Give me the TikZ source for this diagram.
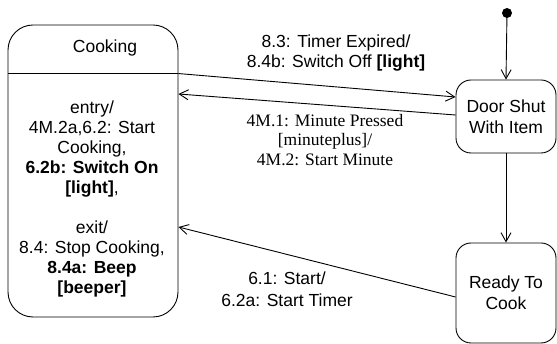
\documentclass[tikz,border=0pt]{standalone}
\usepackage{fontspec}
\setmainfont{Liberation Sans}
\newfontfamily\timesfont{Liberation Serif}
\usetikzlibrary{arrows.meta}

\begin{document}
\begin{tikzpicture}[x=1pt, y=-1pt, >={Straight Barb[length=9pt, width=10pt]},
    state/.style={draw, line width=0.9pt, rounded corners=15pt, minimum width=100pt, align=center,
        font=\fontsize{17.5}{21}\selectfont},
    lbl/.style={align=center, font=\fontsize{17.5}{20}\selectfont},
    trans/.style={->, line width=0.9pt}]
    \useasboundingbox (0,0) rectangle (557,344);

    % Zustand Cooking mit Trennlinie
    \node[state, rounded corners=25pt, minimum width=170pt, minimum height=292pt] (cooking) at (93,171) {};
    \draw[line width=0.9pt] ([yshift=-49pt]cooking.north west) -- ([yshift=-49pt]cooking.north east);
    \node[lbl] (cookname) at (105,48) {Cooking};
    \node[lbl] (cookbody) at (92,199) {entry/\\ 4M.2a,6.2: Start\\ Cooking,\\ \textbf{6.2b: Switch On}\\ \textbf{[light]},\\[20pt]
        exit/\\ 8.4: Stop Cooking,\\ \textbf{8.4a: Beep}\\ \textbf{[beeper]}};

    % die beiden anderen Zustaende
    \node[state, minimum height=73pt] (doorshut) at (506,116.5) {Door Shut\\ With Item};
    \node[state, minimum height=100pt] (ready) at (506,293) {Ready To\\ Cook};

    % Startpunkt
    \fill (507,13) circle (5pt);
    \coordinate (init) at (507,13);

    % Uebergaenge
    \draw[trans] (init) -- (doorshut.north);
    \draw[trans] (doorshut.south) -- (ready.north);
    \draw[trans] ([yshift=-49pt]cooking.north east) -- ([yshift=19.5pt]doorshut.west);
    \draw[trans] ([yshift=1.5pt]doorshut.west) -- ([yshift=77pt]cooking.east);
    \draw[trans] ([yshift=-4pt]ready.west) -- ([yshift=-56pt]cooking.east);

    % Beschriftungen
    \node[lbl] (timerlbl) at (336,53) {8.3: Timer Expired/\\ 8.4b: Switch Off \textbf{[light]}};
    \node[lbl, font=\timesfont\fontsize{17.5}{19.5}\selectfont] (minutelbl) at (325,140) {4M.1: Minute Pressed\\ {}[minuteplus]/\\ 4M.2: Start Minute};
    \node[lbl, font=\fontsize{17.5}{22}\selectfont] (startlbl) at (287,289) {6.1: Start/\\ 6.2a: Start Timer};
\end{tikzpicture}
\end{document}
